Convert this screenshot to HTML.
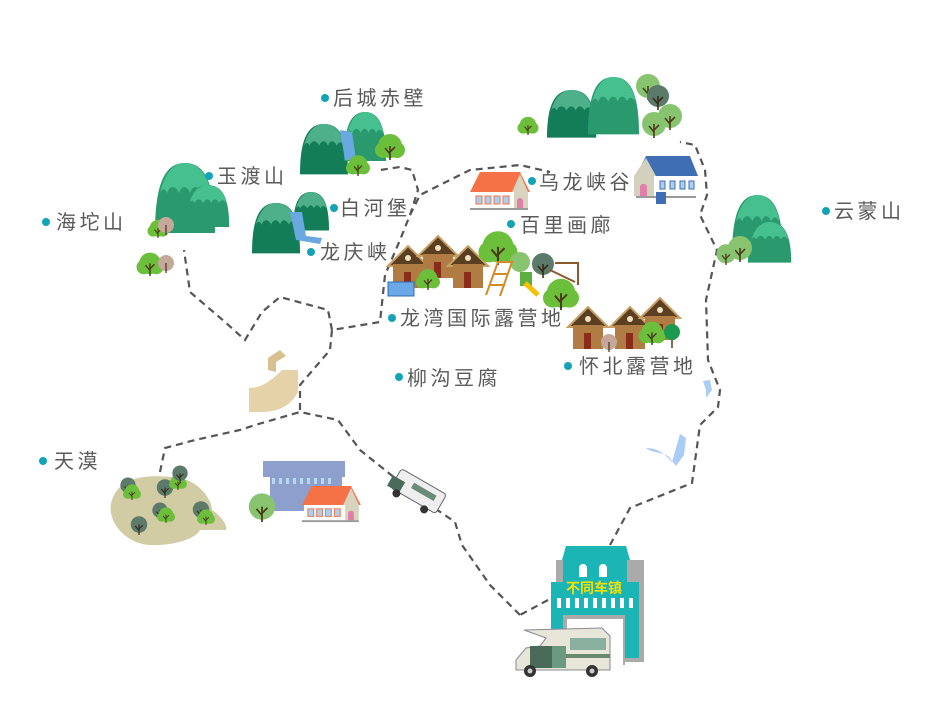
<!DOCTYPE html>
<html><head><meta charset="utf-8"><style>
html,body{margin:0;padding:0;background:#fff;width:927px;height:716px;overflow:hidden}
svg{display:block}
.l{font-family:"Liberation Sans","Noto Sans CJK SC",sans-serif;font-size:20px;fill:#5a5a5a;letter-spacing:3.5px}
.d{fill:#12a4b6}
.r{fill:none;stroke:#555;stroke-width:2.2;stroke-dasharray:7 5}
</style></head><body>
<svg width="927" height="716" viewBox="0 0 927 716" xmlns="http://www.w3.org/2000/svg">
<defs>
<g id="mt"><path d="M0 70 C0 20 10 0 30 0 C50 0 60 20 60 70 Z" fill="#127d56"/><path d="M5 30 C10 8 20 0 30 0 C42 0 52 10 56 30 C52 24 48 24 46 30 C42 22 38 22 35 30 C32 22 27 22 24 30 C20 22 15 22 12 30 C9 24 7 26 5 30Z" fill="#4db08a"/></g>
<g id="mt2"><path d="M0 70 C0 20 10 0 30 0 C50 0 60 20 60 70 Z" fill="#2a9a6e"/><path d="M5 30 C10 8 20 0 30 0 C42 0 52 10 56 30 C52 24 48 24 46 30 C42 22 38 22 35 30 C32 22 27 22 24 30 C20 22 15 22 12 30 C9 24 7 26 5 30Z" fill="#47c08f"/></g>
<g id="tr"><circle cx="0" cy="-14" r="12" fill="#6cbf3a"/><circle cx="-7" cy="-10" r="8" fill="#6cbf3a"/><circle cx="7" cy="-10" r="8" fill="#6cbf3a"/><path d="M0 0V-14M0 -6L-5 -12M0 -8L5 -13" stroke="#4a3a1a" stroke-width="1.6" fill="none"/></g>
<g id="tl"><circle cx="0" cy="-14" r="12" fill="#88c470"/><path d="M0 0V-14M0 -6L-5 -12M0 -8L5 -13" stroke="#4a3a1a" stroke-width="1.6" fill="none"/></g>
<g id="td"><circle cx="0" cy="-14" r="11" fill="#5b7a6a"/><path d="M0 0V-14M0 -6L-5 -12M0 -8L5 -13" stroke="#3a2a1a" stroke-width="1.6" fill="none"/></g>
<g id="tp"><circle cx="0" cy="-10" r="8" fill="#c4a89a"/><path d="M0 0V-10" stroke="#5a4030" stroke-width="1.4"/></g>
<g id="hs"><path d="M-2 14 L18 -6 L38 14Z" fill="#5a3f22" stroke="#c9a064" stroke-width="2"/><rect x="3" y="12" width="30" height="24" fill="#b07c44"/><rect x="14" y="20" width="7" height="16" fill="#8a2c1a"/><circle cx="18" cy="6" r="3" fill="#f3e2c0"/></g>
<g id="wh"><path d="M0 20 L10 0 L50 0 L60 20Z" fill="#f47246"/><path d="M42 20 L50 2 L58 20 V36 H42Z" fill="#d9d4c0"/><rect x="2" y="20" width="42" height="16" fill="#fff"/><rect x="6" y="24" width="6" height="8" fill="#a9d0f0" stroke="#f47246"/><rect x="15" y="24" width="6" height="8" fill="#a9d0f0" stroke="#f47246"/><rect x="24" y="24" width="6" height="8" fill="#a9d0f0" stroke="#f47246"/><rect x="33" y="24" width="6" height="8" fill="#a9d0f0" stroke="#f47246"/><path d="M47 36V29a3 3 0 0 1 6 0V36Z" fill="#e080a8"/><rect x="0" y="36" width="58" height="2" fill="#999"/></g>
</defs>

<path class="r" d="M520 615 L490 585 L462 545 L455 522 L430 505 L395 478 L360 450 L338 420 L300 412 L255 425 L240 430 L195 440 L165 448 L160 472"/>
<path class="r" d="M548 600 L520 615"/>
<path class="r" d="M610 545 L630 508 L692 483 L700 425 L718 407 L720 390 L708 360 L706 300 L717 250 L700 215 L707 195 L705 170 L695 145 L680 142"/>
<path class="r" d="M300 410 L300 385 L330 350 L332 330 L380 322 L385 275 L400 240 L410 215 L418 190 L412 170 L400 167 L380 170"/>
<path class="r" d="M410 215 L420 195 L470 170 L520 165 L550 172"/>
<path class="r" d="M332 330 L328 310 L280 297 L262 312 L245 340 L225 322 L190 292 L184 250"/>

<use href="#mt2" x="155" y="163"/><use href="#mt2" transform="translate(186,185) scale(0.72,0.6)"/>
<use href="#mt" transform="translate(300,124) scale(0.8,0.72)"/><use href="#mt2" transform="translate(344,112) scale(0.7,0.7)"/>
<path d="M340 130 L352 132 L356 160 L345 160Z" fill="#6aa8e0"/>
<use href="#tr" transform="translate(390,160)"/><use href="#tr" transform="translate(358,176) scale(0.8)"/>
<use href="#mt" transform="translate(252,203) scale(0.8,0.72)"/><use href="#mt" transform="translate(293,192) scale(0.6,0.55)"/>
<path d="M290 212 L302 212 L306 236 L322 238 L320 244 L296 240Z" fill="#6aa8e0"/>
<use href="#mt" transform="translate(547,90) scale(0.82,0.68)"/><use href="#mt2" transform="translate(588,77) scale(0.85,0.82)"/>
<use href="#tl" transform="translate(648,100)"/><use href="#td" transform="translate(658,110)"/><use href="#tl" transform="translate(670,130)"/><use href="#tl" transform="translate(654,138)"/>
<use href="#mt2" transform="translate(732,195) scale(0.85,0.88)"/><use href="#mt2" transform="translate(748,222) scale(0.72,0.58)"/>
<use href="#tl" transform="translate(740,262)"/><use href="#tl" transform="translate(726,265) scale(0.8)"/>
<use href="#tr" transform="translate(528,135) scale(0.7)"/>
<use href="#tr" transform="translate(158,238) scale(0.7)"/><use href="#tp" transform="translate(166,235)"/>
<use href="#tr" transform="translate(150,276) scale(0.9)"/><use href="#tp" transform="translate(166,273)"/>

<use href="#wh" x="470" y="172"/>
<path d="M636 176 L646 156 L690 156 L698 176Z" fill="#3f6eb5"/><path d="M634 176 L646 158 L656 176 V196 H634Z" fill="#d3d0be"/><rect x="654" y="176" width="42" height="20" fill="#fff"/>
<rect x="660" y="181" width="5" height="8" fill="#a9d0f0" stroke="#3f6eb5"/><rect x="670" y="181" width="5" height="8" fill="#a9d0f0" stroke="#3f6eb5"/><rect x="680" y="181" width="5" height="8" fill="#a9d0f0" stroke="#3f6eb5"/><rect x="689" y="181" width="5" height="8" fill="#a9d0f0" stroke="#3f6eb5"/>
<path d="M640 196V186a4 4 0 0 1 7 0V196Z" fill="#e080a8"/><rect x="636" y="196" width="60" height="2" fill="#999"/><rect x="656" y="192" width="10" height="12" fill="#3f6eb5"/>
<use href="#hs" x="390" y="252"/><use href="#hs" x="420" y="242"/><use href="#hs" x="450" y="252"/>
<use href="#tr" transform="translate(428,290) scale(0.8)"/>
<rect x="388" y="282" width="26" height="14" fill="#6aa8e8" stroke="#2e6cb8"/>
<use href="#tr" transform="translate(498,265) scale(1.3)"/><circle cx="520" cy="262" r="10" fill="#88c470"/><use href="#td" transform="translate(543,278)"/>
<path d="M486 295 L498 262 L512 262 L500 296 M490 285 L505 285 M494 274 L508 274" stroke="#d58a2a" stroke-width="2" fill="none"/>
<path d="M555 263 L578 263 L578 285 M550 270 L575 282" stroke="#8a5a2a" stroke-width="2" fill="none"/>
<rect x="520" y="272" width="12" height="14" fill="#5bb040"/><path d="M525 283 L538 295" stroke="#f2c200" stroke-width="5"/>
<use href="#tr" transform="translate(561,310) scale(1.2)"/>
<use href="#hs" x="570" y="313"/><use href="#hs" x="612" y="313"/><use href="#hs" x="642" y="304"/>
<use href="#tp" transform="translate(609,352)"/><use href="#tr" transform="translate(652,345) scale(0.9)"/><circle cx="672" cy="332" r="8" fill="#1a9a50"/><path d="M672 340V348" stroke="#5a3a1a" stroke-width="1.5"/>
<path d="M249 388 C262 388 272 380 282 370 L298 370 L298 392 C292 404 280 412 262 412 L249 412Z" fill="#e6d2a8"/>
<path d="M268 370 L268 358 L280 350 L286 356 L276 362 L276 372Z" fill="#d9c090"/>
<path d="M112 500 C120 475 150 474 180 478 C200 482 212 500 212 510 C220 515 228 525 226 530 L200 530 C195 540 170 546 150 545 C125 544 105 520 112 500Z" fill="#d2cca4"/>
<use href="#td" transform="translate(128,495) scale(0.7)"/><use href="#tr" transform="translate(132,500) scale(0.6)"/><use href="#td" transform="translate(165,498) scale(0.75)"/><use href="#tr" transform="translate(178,490) scale(0.6)"/><use href="#td" transform="translate(180,483) scale(0.7)"/><use href="#td" transform="translate(160,520) scale(0.7)"/><use href="#tr" transform="translate(166,523) scale(0.6)"/><use href="#td" transform="translate(139,535) scale(0.75)"/><use href="#td" transform="translate(201,520) scale(0.75)"/><use href="#tr" transform="translate(206,525) scale(0.6)"/>
<rect x="263" y="461" width="82" height="16" fill="#8d9fcc"/><rect x="270" y="477" width="72" height="34" fill="#8d9fcc"/>
<g fill="#b8d8f0"><rect x="272" y="478" width="3" height="6"/><rect x="279" y="478" width="3" height="6"/><rect x="286" y="478" width="3" height="6"/><rect x="293" y="478" width="3" height="6"/><rect x="300" y="478" width="3" height="6"/><rect x="307" y="478" width="3" height="6"/><rect x="314" y="478" width="3" height="6"/><rect x="321" y="478" width="3" height="6"/><rect x="328" y="478" width="3" height="6"/></g>
<use href="#tl" transform="translate(262,522) scale(1.1)"/>
<use href="#wh" transform="translate(302,486) scale(0.98,0.95)"/>
<g transform="translate(418,492) rotate(30)"><rect x="-26" y="-12" width="52" height="22" rx="3" fill="#eee" stroke="#667"/><rect x="-30" y="-2" width="14" height="12" fill="#4a6a5a"/><circle cx="-18" cy="12" r="4" fill="#333"/><circle cx="14" cy="12" r="4" fill="#333"/><rect x="-8" y="-6" width="26" height="6" fill="#6a8a7a"/></g>
<path d="M703 381 L710 380 L712 390 L706 398 L706 390Z" fill="#a9cdf5"/>
<path d="M646 448 C660 448 666 456 672 462 L676 448 L680 434 L686 438 L684 455 L676 466 L668 456 C660 452 650 452 646 448Z" fill="#a9cdf5"/>
<rect x="556" y="560" width="88" height="102" fill="#aaa"/>
<path d="M566 546 L626 546 L630 560 L562 560Z" fill="#1cb5b5"/><rect x="563" y="560" width="64" height="22" fill="#1cb5b5"/>
<path d="M579 577V568a4 4 0 0 1 8 0V577Z M599 577V568a4 4 0 0 1 8 0V577Z" fill="#fff"/>
<rect x="551" y="582" width="88" height="76" fill="#1cb5b5"/><rect x="563" y="615" width="62" height="50" fill="#aaa"/><rect x="567" y="619" width="56" height="46" fill="#fff"/>
<g fill="#fff"><rect x="557" y="598" width="4" height="10"/><rect x="566" y="598" width="4" height="10"/><rect x="575" y="598" width="4" height="10"/><rect x="584" y="598" width="4" height="10"/><rect x="593" y="598" width="4" height="10"/><rect x="602" y="598" width="4" height="10"/><rect x="611" y="598" width="4" height="10"/><rect x="620" y="598" width="4" height="10"/><rect x="629" y="598" width="4" height="10"/></g>
<text x="566" y="593" font-family="'Noto Sans CJK SC',sans-serif" font-size="14" font-weight="bold" fill="#f5e000">不同车镇</text>
<path d="M524 630 L602 628 L610 636 L610 670 L516 670 L516 660 L526 648 L540 646 L546 638 Z" fill="#e8e6d8" stroke="#889" stroke-width="1"/>
<rect x="530" y="646" width="22" height="22" fill="#4a6a5a"/><rect x="552" y="646" width="14" height="22" fill="#6a9a80"/><rect x="570" y="638" width="36" height="12" fill="#8ab0a0"/><rect x="566" y="654" width="44" height="4" fill="#6a8a70"/>
<circle cx="530" cy="671" r="6" fill="#333"/><circle cx="592" cy="671" r="6" fill="#333"/><circle cx="530" cy="671" r="2.5" fill="#ccc"/><circle cx="592" cy="671" r="2.5" fill="#ccc"/>

<circle class="d" cx="325" cy="98" r="4"/><text class="l" x="333" y="105">后城赤壁</text>
<circle class="d" cx="209" cy="176" r="4"/><text class="l" x="217" y="183">玉渡山</text>
<circle class="d" cx="46" cy="222" r="4"/><text class="l" x="56" y="229">海坨山</text>
<circle class="d" cx="334" cy="208" r="4"/><text class="l" x="340" y="215">白河堡</text>
<circle class="d" cx="311" cy="252" r="4"/><text class="l" x="320" y="259">龙庆峡</text>
<circle class="d" cx="532" cy="181" r="4"/><text class="l" x="539" y="189">乌龙峡谷</text>
<circle class="d" cx="511" cy="224" r="4"/><text class="l" x="520" y="232">百里画廊</text>
<circle class="d" cx="392" cy="318" r="4"/><text class="l" x="400" y="325">龙湾国际露营地</text>
<circle class="d" cx="568" cy="366" r="4"/><text class="l" x="579" y="373">怀北露营地</text>
<circle class="d" cx="399" cy="377" r="4"/><text class="l" x="407" y="385">柳沟豆腐</text>
<circle class="d" cx="826" cy="211" r="4"/><text class="l" x="834" y="218">云蒙山</text>
<circle class="d" cx="43" cy="461" r="4"/><text class="l" x="54" y="468">天漠</text>
</svg>
</body></html>
